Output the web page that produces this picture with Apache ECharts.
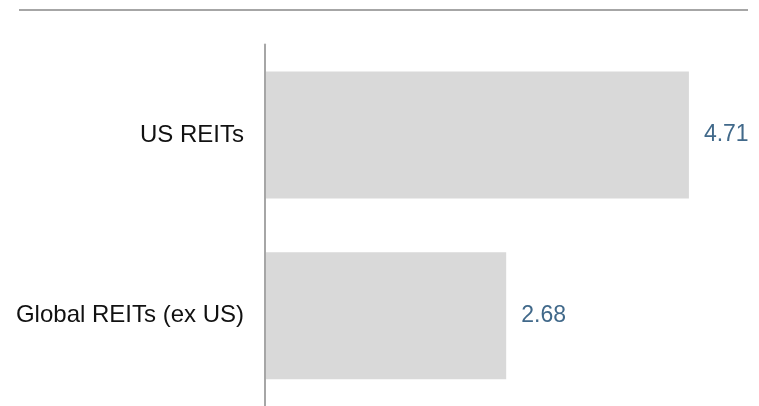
<!DOCTYPE html>
<html>
<head>
<meta charset="utf-8">
<script src="https://cdn.jsdelivr.net/npm/echarts@6/dist/echarts.min.js"></script>
<style>html,body{margin:0;padding:0;background:#fff}#c{width:759px;height:406px}</style>
</head>
<body>
<div id="c"></div>
<script>
const categories = ['US REITs', 'Global REITs (ex US)'];
const values = [4.71, 2.68];

const chart = echarts.init(document.getElementById('c'), null, {renderer: 'canvas'});
chart.setOption({
  animation: false,
  backgroundColor: '#ffffff',
  textStyle: {fontFamily: '"Liberation Sans", Arial, sans-serif'},
  graphic: [{
    type: 'line',
    shape: {x1: 19, y1: 10, x2: 748, y2: 10},
    style: {stroke: '#a6a6a6', lineWidth: 2}
  }],
  grid: {left: 265, right: 44, top: 44.5, height: 364},
  xAxis: {type: 'value', min: 0, max: 5, show: false},
  yAxis: {
    type: 'category',
    data: categories,
    inverse: true,
    z: 5,
    axisLine: {show: true, lineStyle: {color: '#a6a6a6', width: 2}},
    axisTick: {show: false},
    axisLabel: {margin: 21, fontSize: 24, color: '#111111', fontFamily: '"Liberation Sans", Arial, sans-serif'}
  },
  series: [{
    type: 'bar',
    data: values,
    barWidth: 127,
    itemStyle: {color: '#d9d9d9'},
    label: {
      show: true,
      position: 'right',
      distance: 15,
      fontSize: 23,
      color: '#41698a',
      fontFamily: '"Liberation Sans", Arial, sans-serif',
      formatter: p => p.value.toFixed(2)
    }
  }]
});
</script>
</body>
</html>
